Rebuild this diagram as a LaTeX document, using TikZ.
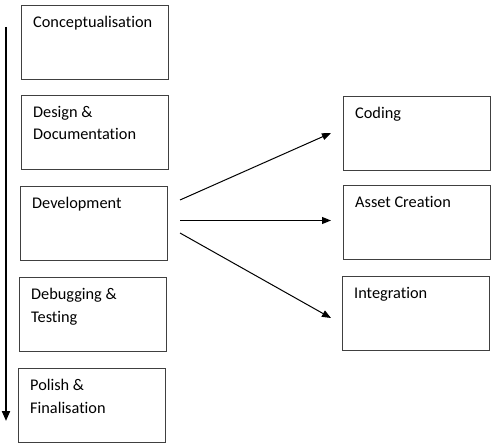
\documentclass[tikz,border=0pt]{standalone}
\usepackage{fontspec}
\setmainfont{Carlito}[Ligatures=NoCommon]
\usetikzlibrary{arrows.meta}
\begin{document}
\begin{tikzpicture}[x=1pt,y=-1pt,
  box/.style={draw=black!75,line width=1.1pt,minimum width=147pt,minimum height=74pt,inner sep=0pt,anchor=north west},
  lbl/.style={anchor=north west,inner sep=0pt,align=left,font=\fontsize{16.3}{22.5}\selectfont},
  arr/.style={line width=1pt,-{Triangle[length=9pt,width=7pt]}}]
\useasboundingbox (0,0) rectangle (493,444);
\node[box] (c1) at (21,5) {};
\node[box] (c2) at (21,95) {};
\node[box] (c3) at (20,186) {};
\node[box] (c4) at (19,277) {};
\node[box] (c5) at (18,368) {};
\node[box] (r1) at (343,96) {};
\node[box] (r2) at (343,185) {};
\node[box] (r3) at (342,276) {};
\node[lbl] (t1) at ([shift={(12,11)}]c1.north west) {Conceptualisation};
\node[lbl] (t2) at ([shift={(12,11)}]c2.north west) {Design \&\\Documentation};
\node[lbl] (t3) at ([shift={(12,11)}]c3.north west) {Development};
\node[lbl] (t4) at ([shift={(12,11)}]c4.north west) {Debugging \&\\Testing};
\node[lbl] (t5) at ([shift={(12,11)}]c5.north west) {Polish \&\\Finalisation};
\node[lbl] (t6) at ([shift={(12,11)}]r1.north west) {Coding};
\node[lbl] (t7) at ([shift={(12,11)}]r2.north west) {Asset Creation};
\node[lbl] (t8) at ([shift={(12,11)}]r3.north west) {Integration};
\coordinate (vs) at (6,27);
\coordinate (ve) at (6,421);
\draw[line width=2pt,-{Triangle[length=10pt,width=8pt]}] (vs) -- (ve);
\coordinate (s1) at (180,200);
\coordinate (s2) at (180,220.5);
\coordinate (s3) at (180,233);
\coordinate (e1) at (331,133);
\coordinate (e2) at (331,220.5);
\coordinate (e3) at (331,318);
\draw[arr] (s1) -- (e1);
\draw[arr] (s2) -- (e2);
\draw[arr] (s3) -- (e3);
\end{tikzpicture}
\end{document}
